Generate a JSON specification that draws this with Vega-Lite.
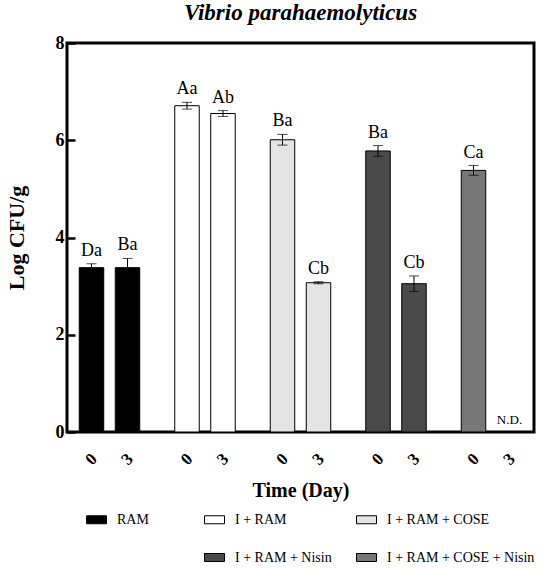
{
  "$schema": "https://vega.github.io/schema/vega-lite/v6.json",
  "width": 467,
  "height": 389,
  "autosize": "none",
  "padding": {"left": 67, "top": 43, "right": 16, "bottom": 136},
  "background": "white",
  "config": {
    "font": "Liberation Serif",
    "view": {"stroke": "black", "strokeWidth": 3}
  },
  "title": {
    "text": "Vibrio parahaemolyticus",
    "fontSize": 23,
    "fontStyle": "italic",
    "fontWeight": "bold",
    "color": "black",
    "offset": 9
  },
  "data": {
    "values": [
      {"group": "RAM", "day": "0", "mean": 3.38, "lo": 3.30, "hi": 3.46, "label": "Da"},
      {"group": "RAM", "day": "3", "mean": 3.38, "lo": 3.19, "hi": 3.57, "label": "Ba"},
      {"group": "I + RAM", "day": "0", "mean": 6.71, "lo": 6.64, "hi": 6.78, "label": "Aa"},
      {"group": "I + RAM", "day": "3", "mean": 6.55, "lo": 6.49, "hi": 6.61, "label": "Ab"},
      {"group": "I + RAM + COSE", "day": "0", "mean": 6.01, "lo": 5.90, "hi": 6.12, "label": "Ba"},
      {"group": "I + RAM + COSE", "day": "3", "mean": 3.07, "lo": 3.05, "hi": 3.09, "label": "Cb"},
      {"group": "I + RAM + Nisin", "day": "0", "mean": 5.78, "lo": 5.67, "hi": 5.89, "label": "Ba"},
      {"group": "I + RAM + Nisin", "day": "3", "mean": 3.05, "lo": 2.89, "hi": 3.21, "label": "Cb"},
      {"group": "I + RAM + COSE + Nisin", "day": "0", "mean": 5.38, "lo": 5.28, "hi": 5.48, "label": "Ca"},
      {"group": "I + RAM + COSE + Nisin", "day": "3", "mean": null, "lo": null, "hi": null, "label": "N.D."}
    ]
  },
  "encoding": {
    "x": {
      "field": "group",
      "type": "nominal",
      "sort": ["RAM", "I + RAM", "I + RAM + COSE", "I + RAM + Nisin", "I + RAM + COSE + Nisin"],
      "scale": {"paddingInner": 0.246, "paddingOuter": 0.068},
      "axis": {
        "labels": false,
        "ticks": false,
        "domain": false,
        "title": "Time (Day)",
        "titleFontSize": 20,
        "titleFontWeight": "bold",
        "titleColor": "black",
        "titlePadding": 48
      }
    },
    "xOffset": {
      "field": "day",
      "type": "nominal",
      "scale": {"domain": ["0", "3"], "paddingInner": 0.32, "paddingOuter": 0.16}
    }
  },
  "layer": [
    {
      "mark": {"type": "bar", "stroke": "black", "strokeWidth": 1},
      "encoding": {
        "y": {
          "field": "mean",
          "type": "quantitative",
          "title": "Log CFU/g",
          "scale": {"domain": [0, 8]},
          "axis": {
            "title": "Log CFU/g",
            "values": [0, 2, 4, 6, 8],
            "grid": false,
            "domain": false,
            "tickSize": -8,
            "tickWidth": 2.5,
            "tickColor": "black",
            "labelFontSize": 18,
            "labelFontWeight": "bold",
            "labelColor": "black",
            "labelPadding": 11,
            "labelFlush": false,
            "titleFontSize": 22,
            "titleFontWeight": "bold",
            "titleColor": "black",
            "titlePadding": 27
          }
        },
        "fill": {
          "field": "group",
          "type": "nominal",
          "scale": {
            "domain": ["RAM", "I + RAM", "I + RAM + COSE", "_", "I + RAM + Nisin", "I + RAM + COSE + Nisin"],
            "range": ["black", "white", "#e4e4e4", "white", "#4a4a4a", "#777777"]
          },
          "legend": {
            "title": null,
            "orient": "bottom",
            "direction": "horizontal",
            "columns": 3,
            "symbolType": "M-1,-0.4H1V0.4H-1Z",
            "symbolSize": 400,
            "symbolStrokeColor": "black",
            "symbolStrokeWidth": 1,
            "symbolOpacity": 1,
            "labelFontSize": 14,
            "labelColor": "black",
            "labelOffset": 10,
            "columnPadding": 22,
            "rowPadding": 20,
            "padding": 19,
            "offset": -10,
            "labelExpr": "datum.value == '_' ? 'MMMMM' : datum.label",
            "encode": {
              "symbols": {"update": {"strokeOpacity": {"signal": "datum.value == '_' ? 0 : 1"}}},
              "labels": {"update": {"opacity": {"signal": "datum.value == '_' ? 0 : 1"}}}
            }
          }
        }
      }
    },
    {
      "mark": {"type": "errorbar", "ticks": {"size": 10, "color": "black"}, "color": "black", "thickness": 1},
      "encoding": {
        "y": {"field": "lo", "type": "quantitative", "title": "Log CFU/g"},
        "y2": {"field": "hi"}
      }
    },
    {
      "transform": [{"filter": "datum.label != 'N.D.'"}],
      "mark": {"type": "text", "baseline": "alphabetic", "dy": -8, "fontSize": 18, "color": "black"},
      "encoding": {
        "y": {"field": "hi", "type": "quantitative", "title": "Log CFU/g"},
        "text": {"field": "label"}
      }
    },
    {
      "transform": [{"filter": "datum.label == 'N.D.'"}],
      "mark": {"type": "text", "baseline": "alphabetic", "dy": -8, "fontSize": 13, "color": "black"},
      "encoding": {
        "y": {"datum": 0, "type": "quantitative"},
        "text": {"field": "label"}
      }
    },
    {
      "mark": {"type": "text", "baseline": "middle", "angle": -45, "dx": -19.5, "dy": 19.5, "fontSize": 17, "fontWeight": "bold", "color": "black"},
      "encoding": {
        "y": {"datum": 0, "type": "quantitative"},
        "text": {"field": "day"}
      }
    }
  ]
}
